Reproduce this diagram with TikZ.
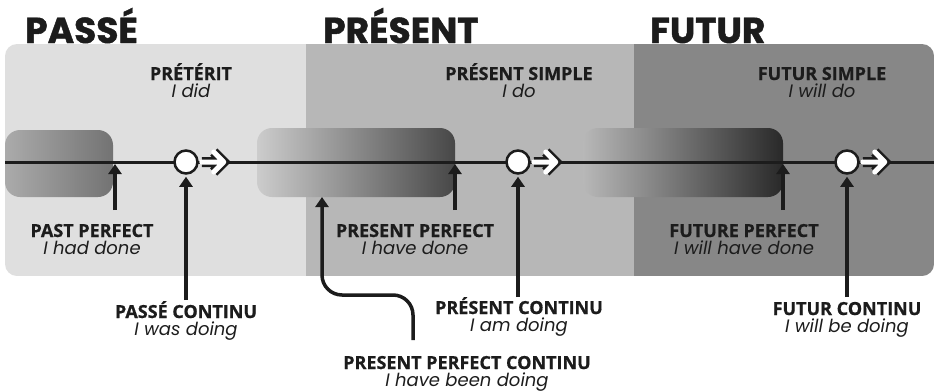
\documentclass[tikz,border=0pt]{standalone}
\usepackage{fontspec}
\setmainfont{Open Sans}[BoldFeatures={FakeBold=0.8}]
\newfontfamily\titlefont{Poppins}[BoldFeatures={FakeBold=1.2}]
\newfontfamily\examplefont{Poppins}
\usetikzlibrary{arrows.meta}
\definecolor{ink}{HTML}{1C1C1C}
\definecolor{passe}{HTML}{DFDFDF}
\definecolor{presnt}{HTML}{B7B7B7}
\definecolor{futur}{HTML}{878787}
\tikzset{
    x=1pt, y=-1pt, % one unit is one pixel, y runs down
    period/.style={font=\titlefont\bfseries\fontsize{36}{36}\selectfont, text=ink, anchor=base west, inner sep=0pt}, % big titles
    tense/.style={align=center, text=ink, inner sep=0pt, anchor=base, font=\fontsize{18}{17.5}\selectfont}, % tense labels
    now/.style={circle, draw=ink, line width=2.5pt, fill=white, minimum size=23pt, inner sep=0pt}, % open circles on the line
    hollow/.style={white, line width=5pt, line cap=round, line join=round, preaction={draw=ink, line width=10pt}}, % outlined arrows
    pointer/.style={draw=ink, line width=3.5pt, -{Triangle[width=13pt,length=10pt]}}, % arrows up to the line
    span/.style={rounded corners=15pt}, % shaded boxes
    }
\newcommand{\tname}[1]{{\bfseries #1}}
\newcommand{\sample}[1]{{\examplefont\itshape\fontsize{18}{17.5}\selectfont #1}}

\begin{document}
\begin{tikzpicture}
            \useasboundingbox (0,0) rectangle (936,391);
            % background panel
            \begin{scope}
            \clip[rounded corners=12pt] (5,44) rectangle (934,276);
            \fill[passe] (5,44) rectangle (306,276);
            \fill[presnt] (306,44) rectangle (634,276);
            \fill[futur] (634,44) rectangle (934,276);
            \end{scope}
            \node[period] (passe-t) at (25,43) {PASSÉ};
            \node[period] (present-t) at (323,43) {PRÉSENT};
            \node[period] (futur-t) at (650,43) {FUTUR};
            % shaded spans
            \shade[span, left color=black!33, right color=black!55] (5,130) rectangle (113,197);
            \shade[span, left color=black!20, right color=black!72] (257,128) rectangle (455,197);
            \shade[span, left color=black!28, right color=black!84] (583,128) rectangle (783,197);
            % time line
            \coordinate (start) at (5,162);
            \coordinate (end) at (934,162);
            \draw[line width=3pt, ink] (start) -- (end);
            \node[now] (pret) at (186,162) {};
            \node[now] (pres) at (518,162) {};
            \node[now] (fut) at (847,162) {};
            \draw[hollow] ([xshift=3pt]pret.east) -- ++(22,0) ++(-10,-10) -- ++(10,10) -- ++(-10,10);
            \draw[hollow] ([xshift=3pt]pres.east) -- ++(22,0) ++(-10,-10) -- ++(10,10) -- ++(-10,10);
            \draw[hollow] ([xshift=3pt]fut.east) -- ++(22,0) ++(-10,-10) -- ++(10,10) -- ++(-10,10);
            % labels (base is the last line)
            \node[tense] (pret-l) at (191,97.5) {\tname{PRÉTÉRIT}\\\sample{I did}};
            \node[tense] (pres-l) at (519,97.5) {\tname{PRÉSENT SIMPLE}\\\sample{I do}};
            \node[tense] (fut-l) at (822,97.5) {\tname{FUTUR SIMPLE}\\\sample{I will do}};
            \node[tense] (pp-l) at (92,254.5) {\tname{PAST PERFECT}\\\sample{I had done}};
            \node[tense] (prp-l) at (415,254.5) {\tname{PRESENT PERFECT}\\\sample{I have done}};
            \node[tense] (fp-l) at (744,254.5) {\tname{FUTURE PERFECT}\\\sample{I will have done}};
            \node[tense] (pc-l) at (186,335.5) {\tname{PASSÉ CONTINU}\\\sample{I was doing}};
            \node[tense] (prc-l) at (519,331.5) {\tname{PRÉSENT CONTINU}\\\sample{I am doing}};
            \node[tense] (fc-l) at (847,332.5) {\tname{FUTUR CONTINU}\\\sample{I will be doing}};
            \node[tense] (ppc-l) at (467,386.5) {\tname{PRESENT PERFECT CONTINU}\\\sample{I have been doing}};
            % arrows
            \coordinate (pp-foot) at (115,210);
            \coordinate (pp-head) at (115,164);
            \coordinate (prp-foot) at (455,210);
            \coordinate (prp-head) at (455,164);
            \coordinate (fp-foot) at (783,210);
            \coordinate (fp-head) at (783,164);
            \coordinate (ppc-foot) at (413,340);
            \coordinate (ppc-bend) at (322,295);
            \coordinate (ppc-head) at (322,197);
            \draw[pointer] (pp-foot) -- (pp-head);
            \draw[pointer] (prp-foot) -- (prp-head);
            \draw[pointer] (fp-foot) -- (fp-head);
            \draw[pointer, shorten >=2pt] (186,300) -- (pret.south);
            \draw[pointer, shorten >=2pt] (518,297) -- (pres.south);
            \draw[pointer, shorten >=2pt] (847,297) -- (fut.south);
            \draw[pointer, rounded corners=20pt] (ppc-foot) |- (ppc-bend) -- (ppc-head);
\end{tikzpicture}
\end{document}
